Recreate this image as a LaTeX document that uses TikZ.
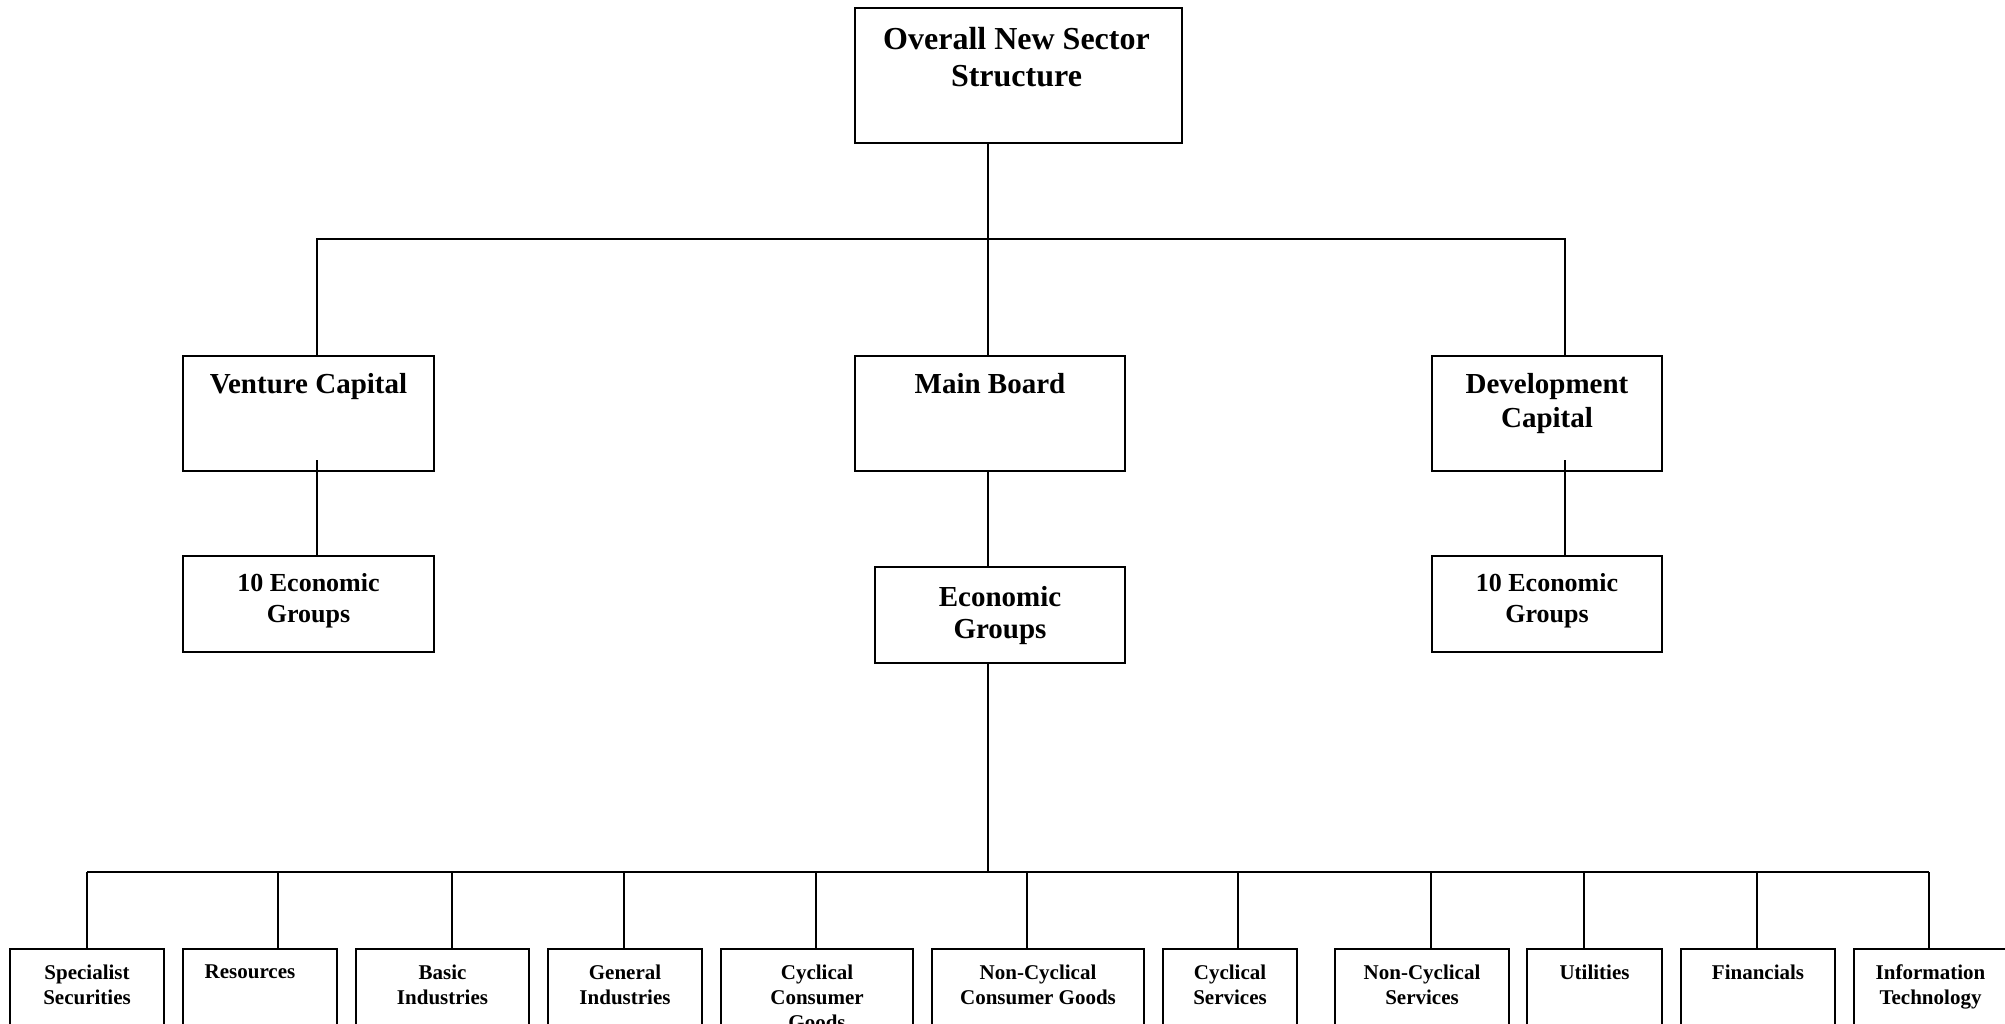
\documentclass[tikz,border=0pt]{standalone}
\usepackage{fontspec}
\setmainfont{Liberation Serif}
\begin{document}
\begin{tikzpicture}[x=1pt,y=-1pt,
  box/.style={draw, line width=2pt, rectangle, inner sep=0pt, anchor=north west},
  conn/.style={line width=2pt},
  lbl/.style={inner sep=0pt, align=center, anchor=north},
  fa/.style={font=\bfseries\fontsize{32}{37}\selectfont},
  fb/.style={font=\bfseries\fontsize{29}{34}\selectfont},
  fc/.style={font=\bfseries\fontsize{26}{31}\selectfont},
  fd/.style={font=\bfseries\fontsize{29}{32}\selectfont},
  fe/.style={font=\bfseries\fontsize{21}{25}\selectfont},
]
\useasboundingbox (0,0) rectangle (2005,1024);
\clip (0,0) rectangle (2005,1024);

% top level
\node[box, minimum width=327pt, minimum height=135pt] (top) at (854,7) {};
\node[lbl, fa] (ttop) at ([xshift=-2pt,yshift=-20pt]top.north) {Overall New Sector\\Structure};

% second level
\node[box, minimum width=251pt, minimum height=115pt] (vc) at (182,355) {};
\node[box, minimum width=270pt, minimum height=115pt] (mb) at (854,355) {};
\node[box, minimum width=230pt, minimum height=115pt] (dc) at (1431,355) {};
\node[lbl, fb] (tvc) at ([yshift=-18pt]vc.north) {Venture Capital};
\node[lbl, fb] (tmb) at ([yshift=-18pt]mb.north) {Main Board};
\node[lbl, fb] (tdc) at ([yshift=-18pt]dc.north) {Development\\Capital};

% third level
\node[box, minimum width=251pt, minimum height=96pt] (veg) at (182,555) {};
\node[box, minimum width=250pt, minimum height=96pt] (meg) at (874,566) {};
\node[box, minimum width=230pt, minimum height=96pt] (deg) at (1431,555) {};
\node[lbl, fc] (tveg) at ([yshift=-18pt]veg.north) {10 Economic\\Groups};
\node[lbl, fd] (tmeg) at ([yshift=-20pt]meg.north) {Economic\\Groups};
\node[lbl, fc] (tdeg) at ([yshift=-18pt]deg.north) {10 Economic\\Groups};

% bottom row
\node[box, minimum width=154pt, minimum height=130pt] (s1) at (9,948) {};
\node[box, minimum width=154pt, minimum height=130pt] (s2) at (182,948) {};
\node[box, minimum width=173pt, minimum height=130pt] (s3) at (355,948) {};
\node[box, minimum width=154pt, minimum height=130pt] (s4) at (547,948) {};
\node[box, minimum width=192pt, minimum height=130pt] (s5) at (720,948) {};
\node[box, minimum width=212pt, minimum height=130pt] (s6) at (931,948) {};
\node[box, minimum width=134pt, minimum height=130pt] (s7) at (1162,948) {};
\node[box, minimum width=174pt, minimum height=130pt] (s8) at (1334,948) {};
\node[box, minimum width=135pt, minimum height=130pt] (s9) at (1526,948) {};
\node[box, minimum width=154pt, minimum height=130pt] (s10) at (1680,948) {};
\node[box, minimum width=153pt, minimum height=130pt] (s11) at (1853,948) {};

\node[lbl, fe] (ts1) at ([yshift=-17pt]s1.north) {Specialist\\Securities};
\node[lbl, fe] (ts2) at ([xshift=-10pt,yshift=-17pt]s2.north) {Resources};
\node[lbl, fe] (ts3) at ([yshift=-17pt]s3.north) {Basic\\Industries};
\node[lbl, fe] (ts4) at ([yshift=-17pt]s4.north) {General\\Industries};
\node[lbl, fe] (ts5) at ([yshift=-17pt]s5.north) {Cyclical\\Consumer\\Goods};
\node[lbl, fe] (ts6) at ([yshift=-17pt]s6.north) {Non-Cyclical\\Consumer Goods};
\node[lbl, fe] (ts7) at ([yshift=-17pt]s7.north) {Cyclical\\Services};
\node[lbl, fe] (ts8) at ([yshift=-17pt]s8.north) {Non-Cyclical\\Services};
\node[lbl, fe] (ts9) at ([yshift=-17pt]s9.north) {Utilities};
\node[lbl, fe] (ts10) at ([yshift=-17pt]s10.north) {Financials};
\node[lbl, fe] (ts11) at ([yshift=-17pt]s11.north) {Information\\Technology};

% upper bus
\coordinate (b1) at (988,239);
\coordinate (b1L) at (317,239);
\coordinate (b1R) at (1565,239);
\draw[conn] (top.south -| b1) -- (b1);
\draw[conn] (b1L |- vc.north) -- (b1L) -- (b1R) -- (b1R |- dc.north);
\draw[conn] (b1) -- (b1 |- mb.north);

% second to third level
\coordinate (vcin) at ([yshift=12pt]vc.south -| b1L);
\coordinate (dcin) at ([yshift=12pt]dc.south -| b1R);
\draw[conn] (vcin) -- (b1L |- veg.north);
\draw[conn] (mb.south -| b1) -- (b1 |- meg.north);
\draw[conn] (dcin) -- (b1R |- deg.north);

% lower bus
\coordinate (b2) at (988,872);
\draw[conn] (meg.south -| b2) -- (b2);
\coordinate (d1) at (87,872);
\coordinate (d2) at (278,872);
\coordinate (d3) at (452,872);
\coordinate (d4) at (624,872);
\coordinate (d5) at (816,872);
\coordinate (d6) at (1027,872);
\coordinate (d7) at (1238,872);
\coordinate (d8) at (1431,872);
\coordinate (d9) at (1584,872);
\coordinate (d10) at (1757,872);
\coordinate (d11) at (1929,872);
\draw[conn] (d1) -- (d11);
\foreach \i in {1,...,11} {
  \draw[conn] (d\i) -- (d\i |- s\i.north);
}
\end{tikzpicture}
\end{document}
